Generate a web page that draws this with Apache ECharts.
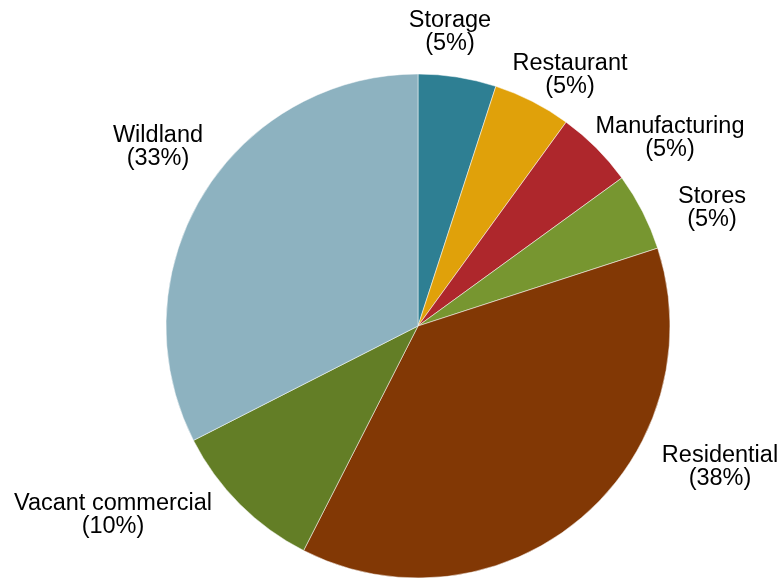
<!DOCTYPE html>
<html>
<head>
<meta charset="utf-8">
<script src="https://cdn.jsdelivr.net/npm/echarts@6/dist/echarts.min.js"></script>
<style>
  html, body { margin: 0; padding: 0; background: #ffffff; }
  #chart { width: 778px; height: 580px; }
</style>
</head>
<body>
<div id="chart"></div>
<script>
// ---- data ----
var categories = ['Storage', 'Restaurant', 'Manufacturing', 'Stores', 'Residential', 'Vacant commercial', 'Wildland'];
var counts = [2, 2, 2, 2, 15, 4, 13];
var colors = ['#2E7F93', '#E0A10A', '#AE272C', '#779630', '#823805', '#637E26', '#8DB2C0'];

// ---- layout (label centres, px) ----
var labelCenters = [[450, 32], [570, 75], [670, 138], [712, 208], [720, 467], [113, 515], [158, 147]];

var total = counts.reduce(function (a, b) { return a + b; }, 0);

var chart = echarts.init(document.getElementById('chart'), null, { renderer: 'canvas' });
chart.setOption({
  animation: false,
  backgroundColor: '#ffffff',
  series: [{
    type: 'pie',
    center: [418, 326],
    radius: 252,
    startAngle: 90,
    clockwise: true,
    avoidLabelOverlap: false,
    silent: true,
    itemStyle: { borderColor: '#ffffff', borderWidth: 0.5 },
    label: {
      show: true,
      position: 'outside',
      fontFamily: 'Liberation Sans, Arial, sans-serif',
      fontSize: 23.5,
      lineHeight: 23,
      color: '#000000',
      formatter: function (p) {
        return p.name + '\n(' + Math.round(p.value * 100 / total) + '%)';
      }
    },
    labelLine: { show: false },
    labelLayout: function (params) {
      var c = labelCenters[params.dataIndex];
      return { x: c[0], y: c[1], align: 'center', verticalAlign: 'middle' };
    },
    emphasis: { disabled: true },
    data: categories.map(function (name, i) {
      return { name: name, value: counts[i], itemStyle: { color: colors[i] } };
    })
  }]
});
</script>
</body>
</html>
